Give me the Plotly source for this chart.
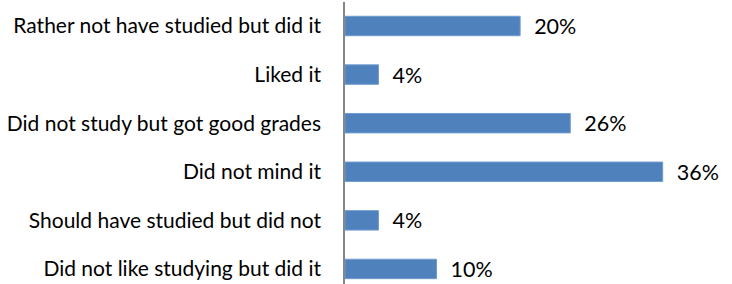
import plotly.graph_objects as go

categories = [
    "Rather not have studied but did it",
    "Liked it",
    "Did not study but got good grades",
    "Did not mind it",
    "Should have studied but did not",
    "Did not like studying but did it",
]
values = [19.9, 3.8, 25.6, 36.1, 3.8, 10.4]

fig = go.Figure(
    go.Bar(
        x=values,
        y=categories,
        orientation="h",
        width=0.40,
        marker=dict(color="#4F81BD", line=dict(color="#6F9BD0", width=1)),
        texttemplate="\u00a0\u00a0%{x:.0f}%",
        textposition="outside",
        constraintext="none",
        textfont=dict(family="Lato", size=21.5, color="#000000"),
        cliponaxis=False,
        hoverinfo="skip",
    )
)

fig.update_layout(
    width=732,
    height=284,
    margin=dict(l=345, r=35, t=2, b=0),
    paper_bgcolor="white",
    plot_bgcolor="white",
    showlegend=False,
    font=dict(family="Lato", color="#000000"),
    xaxis=dict(
        range=[0, 40],
        visible=False,
        showgrid=False,
        zeroline=False,
    ),
    yaxis=dict(
        categoryorder="array",
        categoryarray=categories,
        range=[5.31, -0.494],
        showline=True,
        linecolor="#868686",
        linewidth=1.5,
        showgrid=False,
        zeroline=False,
        ticks="",
        ticklabelstandoff=18,
        tickfont=dict(family="Lato", size=21, color="#000000"),
    ),
)

fig.write_html(
    "out.html",
    config={"displayModeBar": False},
    post_script="document.body.style.margin='0';document.body.style.overflow='hidden';",
)
